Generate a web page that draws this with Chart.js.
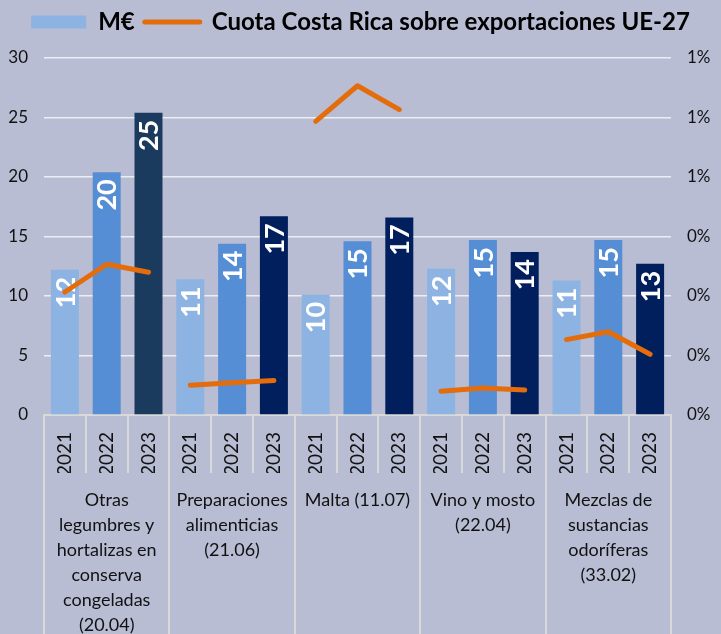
<!DOCTYPE html>
<html>
<head>
<meta charset="utf-8">
<title>M€ y cuota Costa Rica</title>
<script src="https://cdn.jsdelivr.net/npm/chart.js"></script>
<style>
  body { margin: 0; background: #b8bdd3; }
  #wrap { width: 721px; height: 634px; position: relative; }
</style>
</head>
<body>
<div id="wrap"><canvas id="grafico"></canvas></div>
<script>
    // datos
    const years = ['2021', '2022', '2023'];
    const grupos = [
        ['Otras', 'legumbres y', 'hortalizas en', 'conserva', 'congeladas', '(20.04)'],
        ['Preparaciones', 'alimenticias', '(21.06)'],
        ['Malta (11.07)'],
        ['Vino y mosto', '(22.04)'],
        ['Mezclas de', 'sustancias', 'odoríferas', '(33.02)']
    ];
    const millones = [12.2, 20.4, 25.4, 11.4, 14.4, 16.7, 10.1, 14.6, 16.6, 12.3, 14.7, 13.7, 11.3, 14.7, 12.7];
    // cuota en %
    const cuota = [0.31, 0.38, 0.36, 0.075, 0.081, 0.087, 0.74, 0.83, 0.77, 0.06, 0.068, 0.063, 0.19, 0.21, 0.153];

    const yearLabels = grupos.flatMap(() => years);

    const naranja = '#e46c0a';
    const coloresBarra = [
        '#8db3e2', '#558ed5', '#1a3a5e',
        '#8db3e2', '#558ed5', '#001f5c',
        '#8db3e2', '#558ed5', '#001f5c',
        '#8db3e2', '#558ed5', '#001f5c',
        '#8db3e2', '#558ed5', '#001f5c'
    ];
    const fuente = 'Lato, "DejaVu Sans", sans-serif';
    const lineaGris = '#d9d9d9';

    // etiquetas de valor giradas dentro de las barras
    const etiquetasBarras = {
        id: 'etiquetasBarras',
        afterDatasetDraw(chart, args) {
            if (args.index !== 0) return;
            const ctx = chart.ctx;
            ctx.save();
            ctx.fillStyle = '#ffffff';
            ctx.font = 'bold 27px ' + fuente;
            ctx.textAlign = 'right';
            ctx.textBaseline = 'middle';
            args.meta.data.forEach((bar, i) => {
                ctx.save();
                ctx.translate(bar.x + 1, bar.y + 7);
                ctx.rotate(-Math.PI / 2);
                ctx.fillText(String(Math.round(millones[i])), 0, 0);
                ctx.restore();
            });
            ctx.restore();
        }
    };

    // un poco más de aire debajo de la leyenda
    const espacioLeyenda = {
        id: 'espacioLeyenda',
        beforeLayout(chart) {
            const lg = chart.legend;
            if (!lg || lg._conEspacio) return;
            const fit = lg.fit;
            lg.fit = function () {
                fit.call(this);
                this.height += 14;
            };
            lg._conEspacio = true;
        }
    };

    new Chart(document.getElementById('grafico'), {
        data: {
            labels: yearLabels,
            datasets: [{
                type: 'bar',
                label: 'M€',
                data: millones,
                backgroundColor: coloresBarra,
                categoryPercentage: 1,
                barPercentage: 0.67,
                yAxisID: 'y',
                xAxisID: 'x',
                order: 1
            }, {
                type: 'line',
                label: 'Cuota Costa Rica sobre exportaciones UE-27',
                data: cuota,
                borderColor: naranja,
                backgroundColor: naranja,
                borderWidth: 5,
                borderCapStyle: 'round',
                borderJoinStyle: 'round',
                pointRadius: 0,
                tension: 0,
                yAxisID: 'y1',
                xAxisID: 'x',
                order: 0,
                segment: {
                    // corta la línea entre grupos
                    borderColor: c => (c.p0DataIndex % 3 === 2 ? 'rgba(0,0,0,0)' : naranja)
                }
            }]
        },
        options: {
            responsive: true,
            maintainAspectRatio: false,
            animation: false,
            layout: { padding: { top: 0, left: 0, right: 0, bottom: 0 } },
            plugins: {
                tooltip: { enabled: false },
                legend: {
                    position: 'top',
                    labels: {
                        color: '#000',
                        font: { family: fuente, size: 24, weight: 'bold' },
                        usePointStyle: true,
                        pointStyleWidth: 55,
                        boxHeight: 13,
                        padding: 10,
                        generateLabels: () => [
                            { text: 'M€', fillStyle: '#8db3e2', strokeStyle: '#8db3e2', lineWidth: 0, pointStyle: 'rect', datasetIndex: 0, hidden: false },
                            { text: 'Cuota Costa Rica sobre exportaciones UE-27', fillStyle: naranja, strokeStyle: naranja, lineWidth: 5, lineCap: 'round', pointStyle: 'line', datasetIndex: 1, hidden: false }
                        ]
                    }
                }
            },
            scales: {
                x: {
                    type: 'category',
                    position: 'bottom',
                    weight: 0,
                    offset: true,
                    grid: {
                        offset: true,
                        drawOnChartArea: false,
                        color: lineaGris,
                        lineWidth: 2,
                        tickLength: 58
                    },
                    border: { color: lineaGris, width: 2 },
                    ticks: {
                        autoSkip: false,
                        minRotation: 90,
                        maxRotation: 90,
                        padding: -41,
                        color: '#111',
                        font: { family: fuente, size: 19 }
                    },
                    afterFit: s => { s.height = 58; }
                },
                x2: {
                    type: 'category',
                    position: 'bottom',
                    weight: 1,
                    labels: grupos,
                    offset: true,
                    grid: {
                        offset: true,
                        drawOnChartArea: false,
                        color: lineaGris,
                        lineWidth: 2,
                        tickLength: 161
                    },
                    border: { display: false },
                    ticks: {
                        autoSkip: false,
                        maxRotation: 0,
                        minRotation: 0,
                        padding: -146,
                        color: '#111',
                        font: { family: fuente, size: 18, lineHeight: '25px' }
                    },
                    afterFit: s => { s.height = 161; }
                },
                y: {
                    position: 'left',
                    min: 0,
                    max: 30,
                    ticks: {
                        stepSize: 5,
                        padding: 16,
                        color: '#111',
                        font: { family: fuente, size: 17 }
                    },
                    grid: { color: '#eceef4', lineWidth: 1.5, drawTicks: false },
                    border: { display: false },
                    afterFit: s => { s.width = 44; }
                },
                y1: {
                    position: 'right',
                    min: 0,
                    max: 0.9,
                    ticks: {
                        stepSize: 0.15,
                        padding: 8,
                        color: '#111',
                        font: { family: fuente, size: 17 },
                        callback: v => Math.round(v) + '%'
                    },
                    grid: { display: false },
                    border: { display: false },
                    afterFit: s => { s.width = 50; }
                }
            }
        },
        plugins: [etiquetasBarras, espacioLeyenda]
    });
</script>
</body>
</html>
